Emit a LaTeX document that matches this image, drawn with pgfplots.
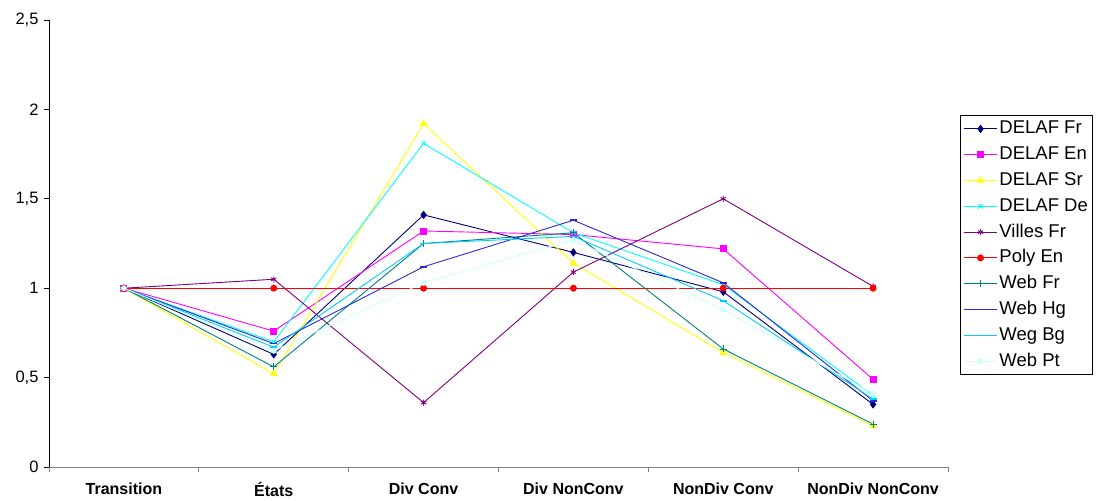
\documentclass[border=0pt]{standalone}
\usepackage{pgfplots}
\pgfplotsset{compat=1.18}
\usepackage{fontspec}
\setmainfont{Liberation Sans}
\definecolor{cFr}{HTML}{000080}
\definecolor{cEn}{HTML}{FF00FF}
\definecolor{cSr}{HTML}{FFFF00}
\definecolor{cDe}{HTML}{00FFFF}
\definecolor{cVil}{HTML}{800080}
\definecolor{cPoly}{HTML}{FF0000}
\definecolor{cWFr}{HTML}{008080}
\definecolor{cWHg}{HTML}{2B2BD0}
\definecolor{cWBg}{HTML}{00CCFF}
\definecolor{cWPt}{HTML}{CCFFFF}
\pgfdeclareplotmark{hdash}{%
  \pgfpathrectangle{\pgfqpoint{-\pgfplotmarksize}{-0.8pt}}{\pgfqpoint{2\pgfplotmarksize}{1.6pt}}%
  \pgfusepathqfill}
\begin{document}
\begin{tikzpicture}
\useasboundingbox (0,0) rectangle (1112pt,501pt);
\begin{axis}[
  at={(49pt,34pt)}, anchor=south west,
  width=899pt, height=447pt, scale only axis,
  xmin=-0.5, xmax=5.5, ymin=0, ymax=2.5,
  axis x line=bottom, axis y line=left,
  axis line style={-, line width=0.9pt},
  x axis line style={draw=gray},
  y axis line style={draw=black},
  xtick={0,1,2,3,4,5},
  xticklabels={Transition,États,Div Conv,Div NonConv,NonDiv Conv,NonDiv NonConv},
  major x tick style={draw=none},
  minor xtick={-0.5,0.5,1.5,2.5,3.5,4.5,5.5},
  minor x tick style={draw=gray, line width=0.9pt},
  ytick={0,0.5,1,1.5,2,2.5},
  yticklabels={0,{0,5},1,{1,5},2,{2,5}},
  y tick style={draw=black, line width=0.9pt},
  tick align=outside,
  major tick length=5pt, minor tick length=5pt,
  x tick label style={font=\fontsize{16}{19}\selectfont\bfseries, yshift=-7pt},
  y tick label style={font=\fontsize{16.5}{19}\selectfont, xshift=-2pt},
  every axis plot/.append style={line width=0.9pt},
  legend image code/.code={\draw[mark repeat=2,mark phase=2,#1] plot coordinates {(0pt,0pt) (16.5pt,0pt) (33pt,0pt)};},
  legend cell align=left,
  legend style={at={(axis description cs:1.0135,0.7875)}, anchor=north west,
    draw=black, line width=0.9pt, inner sep=3pt, row sep=4.8pt,
    nodes={inner sep=2pt, text height=13.5pt, text depth=3.5pt, font=\fontsize{18.5}{21}\selectfont}},
]
\addplot[color=cFr, mark=diamond*, mark size=3.5pt, mark options={fill=cFr}] coordinates {(0,1) (1,0.63) (2,1.41) (3,1.20) (4,0.98) (5,0.35)};
\addlegendentry{DELAF Fr}
\addplot[color=cEn, mark=square*, mark size=3pt, mark options={fill=cEn}] coordinates {(0,1) (1,0.76) (2,1.32) (3,1.30) (4,1.22) (5,0.49)};
\addlegendentry{DELAF En}
\addplot[color=cSr, mark=triangle*, mark size=3.5pt, mark options={fill=cSr}] coordinates {(0,1) (1,0.52) (2,1.92) (3,1.14) (4,0.64) (5,0.23)};
\addlegendentry{DELAF Sr}
\addplot[color=cDe, mark=x, mark size=3pt] coordinates {(0,1) (1,0.70) (2,1.81) (3,1.31) (4,1.02) (5,0.40)};
\addlegendentry{DELAF De}
\addplot[color=cVil, mark=asterisk, mark size=3pt] coordinates {(0,1) (1,1.05) (2,0.36) (3,1.09) (4,1.50) (5,1.01)};
\addlegendentry{Villes Fr}
\addplot[color=cPoly, mark=*, mark size=3pt, mark options={fill=cPoly}] coordinates {(0,1) (1,1) (2,1) (3,1) (4,1) (5,1)};
\addlegendentry{Poly En}
\addplot[color=cWFr, mark=+, mark size=3.5pt] coordinates {(0,1) (1,0.56) (2,1.25) (3,1.31) (4,0.66) (5,0.24)};
\addlegendentry{Web Fr}
\addplot[color=cWHg, mark=hdash, mark size=3.5pt] coordinates {(0,1) (1,0.69) (2,1.12) (3,1.38) (4,1.03) (5,0.37)};
\addlegendentry{Web Hg}
\addplot[color=cWBg, mark=hdash, mark size=3.5pt] coordinates {(0,1) (1,0.67) (2,1.25) (3,1.29) (4,0.93) (5,0.38)};
\addlegendentry{Weg Bg}
\addplot[color=cWPt, mark=*, mark size=2.5pt, mark options={fill=cWPt}] coordinates {(0,1) (1,0.65) (2,1.03) (3,1.27) (4,0.88) (5,0.41)};
\addlegendentry{Web Pt}
\end{axis}
\end{tikzpicture}
\end{document}
